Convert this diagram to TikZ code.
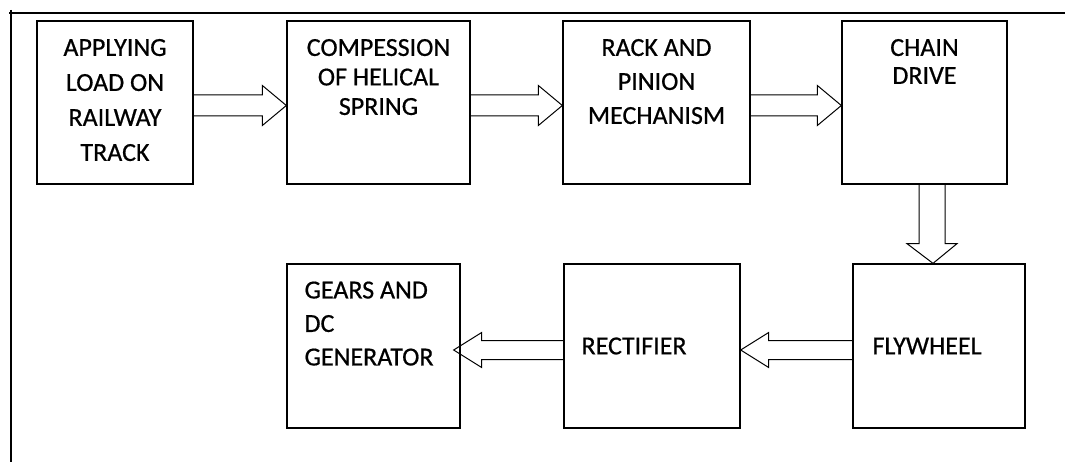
\documentclass[tikz,border=0pt]{standalone}
\usepackage{fontspec}
\setmainfont[FakeBold=0.6]{Carlito}
\usetikzlibrary{calc}
\usetikzlibrary{positioning}
\tikzset{blk/.style = {draw, line width=1.3pt, inner sep=0pt},
         lbl/.style = {inner sep=0pt, align=center,
                       font=\fontsize{26}{#1}\selectfont},
         hollow/.style = {draw, line width=1pt, line join=miter},
         frame/.style = {line width=1.5pt}}

% block arrow pointing right, from box #1 to box #2
\newcommand{\rightblock}[2]{%
  \draw [hollow] ($(#1.east)+(0,-7.5)$) -- ($(#2.west)+(-24,-7.5)$)
    -- ($(#2.west)+(-24,-17)$) -- ($(#2.west)+(0,3)$)
    -- ($(#2.west)+(-24,23)$) -- ($(#2.west)+(-24,13.5)$)
    -- ($(#1.east)+(0,13.5)$);}
% block arrow pointing left, tip pushed #3 into box #2
\newcommand{\leftblock}[3]{%
  \draw [hollow] ($(#1.west)+(0,-5.5)$) -- ($(#2.east)+({28-#3},-5.5)$)
    -- ($(#2.east)+({28-#3},-13.5)$) -- ($(#2.east)+(-#3,4)$)
    -- ($(#2.east)+({28-#3},21.5)$) -- ($(#2.east)+({28-#3},13.5)$)
    -- ($(#1.west)+(0,13.5)$);}

\begin{document}
\begin{tikzpicture}[x=1pt, y=-1pt]
  \useasboundingbox (0,0) rectangle (1065,462);
  \draw [frame] (9,13) -- (1065,13);
  \draw [frame] (11,10) -- (11,462);

  % top row
  \node [blk, minimum width=156pt, minimum height=163pt] (load) at (115,102.5) {};
  \node [blk, minimum width=183pt, minimum height=163pt] (spring) at (378.5,102.5) {};
  \node [blk, minimum width=187pt, minimum height=163pt] (rack) at (656.5,102.5) {};
  \node [blk, minimum width=165pt, minimum height=163pt] (chain) at (924.5,102.5) {};
  % bottom row
  \node [blk, minimum width=172pt, minimum height=164pt] (fly) at (939,346) {};
  \node [blk, minimum width=176pt, minimum height=164pt] (rect) at (652,346) {};
  \node [blk, minimum width=173pt, minimum height=164pt] (gears) at (373.5,346) {};

  \node [lbl=35pt, below=18.5pt of load.north] (loadtxt) {APPLYING\\LOAD ON\\RAILWAY\\TRACK};
  \node [lbl=29.5pt, below=18.5pt of spring.north] (springtxt) {COMPESSION\\OF HELICAL\\SPRING};
  \node [lbl=34pt, below=18.5pt of rack.north] (racktxt) {RACK AND\\PINION\\MECHANISM};
  \node [lbl=28pt, below=18.5pt of chain.north] (chaintxt) {CHAIN\\DRIVE};
  \node [lbl=20pt, anchor=west] (flytxt) at ($(fly.west)+(20,0)$) {FLYWHEEL};
  \node [lbl=20pt, anchor=west] (recttxt) at ($(rect.west)+(18,0)$) {RECTIFIER};
  \node [lbl=33.5pt, align=left, anchor=north west] (gearstxt)
        at ($(gears.north west)+(18,18)$) {GEARS AND\\DC\\GENERATOR};

  \rightblock{load}{spring}
  \rightblock{spring}{rack}
  \rightblock{rack}{chain}
  \draw [hollow] ($(chain.south)+(-5.5,0)$) -- ++(0,59) -- ++(-12,0)
    -- ($(fly.north)+(-6,0)$) -- ($(chain.south)+(32.5,59)$) -- ++(-12,0)
    -- ($(chain.south)+(20.5,0)$);
  \leftblock{fly}{rect}{0}
  \leftblock{rect}{gears}{7}
\end{tikzpicture}
\end{document}
